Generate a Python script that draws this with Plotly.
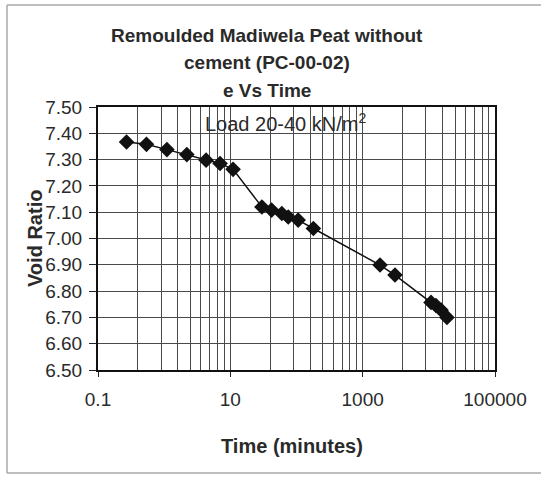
import plotly.graph_objects as go

# Data
time_min = [0.27, 0.54, 1.1, 2.2, 4.3, 7.0, 11.0, 30, 42, 60, 75, 106, 180,
            1830, 3080, 10800, 12800, 15300, 18800]
void_ratio = [7.367, 7.358, 7.338, 7.319, 7.298, 7.285, 7.263, 7.120, 7.108,
              7.095, 7.082, 7.070, 7.038, 6.899, 6.861, 6.757, 6.745, 6.728, 6.700]

x_major_ticks = [0.1, 10, 1000, 100000]
x_major_labels = ["0.1", "10", "1000", "100000"]
y_ticks = [6.5, 6.6, 6.7, 6.8, 6.9, 7.0, 7.1, 7.2, 7.3, 7.4, 7.5]

title_lines = ["Remoulded Madiwela Peat without", "cement (PC-00-02)", "e Vs Time"]
load_text = "Load 20-40 kN/m<sup>2</sup>"
x_title = "Time (minutes)"
y_title = "Void Ratio"

# Minor gridlines as Excel draws them on a base-100 log axis
x_minor = [m * k * k for m in x_major_ticks[:-1] for k in range(2, 10)]

W, H = 541, 477
L, R, T, B = 98, 495, 107, 370

def px(x):
    return (x - L) / (R - L)

def py(y):
    return (B - y) / (B - T)

FONT = "Liberation Sans, Arial, sans-serif"
TXT = "#2a2a2a"
GRID = "#4a4a4a"

fig = go.Figure()
fig.add_trace(go.Scatter(
    x=time_min, y=void_ratio, mode="lines+markers",
    line=dict(color="#111111", width=1.5),
    marker=dict(symbol="diamond", size=12, color="#111111"),
    showlegend=False,
))

fig.update_layout(
    width=W, height=H,
    margin=dict(l=L, r=W - R, t=T, b=H - B, autoexpand=False),
    paper_bgcolor="white", plot_bgcolor="white",
    font=dict(family=FONT, color=TXT),
    xaxis=dict(
        type="log", range=[-1, 5], automargin=False,
        tickmode="array", tickvals=x_major_ticks, ticktext=x_major_labels,
        showgrid=True, gridcolor=GRID, gridwidth=1,
        ticks="outside", ticklen=5, tickcolor="#222",
        tickfont=dict(size=19, color=TXT),
        showline=True, linecolor="#111", linewidth=2, mirror=True,
        minor=dict(tickmode="array", tickvals=x_minor, showgrid=True,
                   gridcolor=GRID, gridwidth=1, ticks=""),
        ticklabelstandoff=6,
        zeroline=False,
    ),
    yaxis=dict(
        range=[6.5, 7.5], tickmode="array", tickvals=y_ticks, automargin=False,
        tickformat=".2f",
        showgrid=True, gridcolor=GRID, gridwidth=1,
        ticks="outside", ticklen=7, tickcolor="#222",
        tickfont=dict(size=19, color=TXT),
        showline=True, linecolor="#111", linewidth=2, mirror=True,
        ticklabelstandoff=3,
        zeroline=False,
    ),
)

ann = []
for txt, yy in zip(title_lines, [35, 63, 91]):
    ann.append(dict(text="<b>" + txt + "</b>", x=px(267), y=py(yy),
                    xref="paper", yref="paper", showarrow=False,
                    xanchor="center", yanchor="middle",
                    font=dict(size=19, color=TXT, family=FONT)))
ann.append(dict(text=load_text, x=px(285), y=py(123), xref="paper", yref="paper",
                showarrow=False, xanchor="center", yanchor="middle",
                font=dict(size=20, color=TXT, family=FONT)))
ann.append(dict(text="<b>" + x_title + "</b>", x=px(292), y=py(446),
                xref="paper", yref="paper", showarrow=False,
                xanchor="center", yanchor="middle",
                font=dict(size=20, color=TXT, family=FONT)))
ann.append(dict(text="<b>" + y_title + "</b>", x=px(35), y=py(239),
                xref="paper", yref="paper", showarrow=False, textangle=-90,
                xanchor="center", yanchor="middle",
                font=dict(size=20, color=TXT, family=FONT)))
fig.update_layout(annotations=ann)

# Outer chart frame: only left, top and bottom edges are visible
frame = dict(color="#a8a8a8", width=1.5)
fig.add_shape(type="line", xref="paper", yref="paper",
              x0=px(7), x1=px(7), y0=py(473), y1=py(5), line=frame, layer="below")
fig.add_shape(type="line", xref="paper", yref="paper",
              x0=px(7), x1=px(600), y0=py(5), y1=py(5), line=frame, layer="below")
fig.add_shape(type="line", xref="paper", yref="paper",
              x0=px(7), x1=px(600), y0=py(473), y1=py(473), line=frame, layer="below")

fig.write_html("out.html",
               config={"displayModeBar": False},
               post_script="document.body.style.margin='0';"
                           "document.body.style.padding='0';")
